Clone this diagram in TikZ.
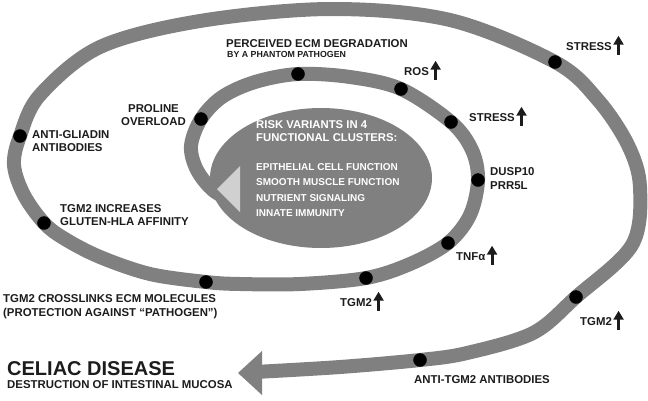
\documentclass[tikz,border=0pt]{standalone}
\usepackage{fontspec}
\setmainfont{Liberation Sans}
\usetikzlibrary{arrows.meta}
\definecolor{band}{RGB}{128,128,128}
\definecolor{tri}{RGB}{208,208,208}
\definecolor{ink}{RGB}{28,28,28}
\tikzset{
  lbl/.style={font=\fontsize{11.4}{13.5}\selectfont\bfseries,text=ink,inner sep=0pt,align=left},
  inlbl/.style={lbl,text=white},
  uparr/.style={draw=ink,line width=3pt,-{Triangle[length=9pt,width=10pt]}},
}
\begin{document}
\begin{tikzpicture}[x=1pt,y=-1pt,line join=round]
			\useasboundingbox (0,0) rectangle (648,400);
			\draw [band,line width=14pt] plot [smooth,tension=0.55] coordinates {
				(238,203) (214,191) (197,170) (191,146) (201,119) (222,97) (255,82) (298,74)
				(350,77) (401,89) (451,122) (472,150) (478,180) (470,215) (448,243) (410,264)
				(366,278) (300,284) (240,284) (206,282) (150,274) (100,257) (65,239) (44,223)
				(24,195) (14,165) (20,136) (40,95) (100,47) (200,21) (330,9) (450,20) (555,62)
				(598,100) (628,145) (640,187) (632,245) (576,297) (533,333) (467,353) (420,360)
				(340,367) (255,372)};
			\fill [band] (262,351)--(238,373)--(262,395)--cycle;
			\fill [band] (321,178) ellipse [x radius=111,y radius=70];
			\fill [tri] (217,189)--(240,166)--(240,212)--cycle;
			\draw [fill=black] (298,74) circle (6.5pt)
			(401,89) circle (6.5pt)
			(451,122) circle (6.5pt)
			(478,180) circle (6.5pt)
			(448,243) circle (6.5pt)
			(366,278) circle (6.5pt)
			(206,282) circle (6.5pt)
			(44,223) circle (6.5pt)
			(20,136) circle (6.5pt)
			(201,119) circle (6.5pt)
			(555,62) circle (6.5pt)
			(576,297) circle (6.5pt)
			(420,360) circle (6.5pt)
			;
			\node (risk) [inlbl,font=\fontsize{11.3}{13}\selectfont\bfseries,anchor=west] at (256,131.5) {RISK VARIANTS IN 4\\FUNCTIONAL CLUSTERS:};
			\node (clusters) [inlbl,font=\fontsize{10}{15.3}\selectfont\bfseries,anchor=west] at (256,190) {EPITHELIAL CELL FUNCTION\\SMOOTH MUSCLE FUNCTION\\NUTRIENT SIGNALING\\INNATE IMMUNITY};
			\node (perceived) [lbl,anchor=west] at (226,44) {PERCEIVED ECM DEGRADATION};
			\node (phantom) [lbl,font=\fontsize{8.8}{10}\selectfont\bfseries,anchor=west] at (227,54.5) {BY A PHANTOM PATHOGEN};
			\node (proline) [lbl,align=center,anchor=east] at (186,115) {PROLINE\\OVERLOAD};
			\node (gliadin) [lbl,anchor=west] at (32,141) {ANTI-GLIADIN\\ANTIBODIES};
			\node (affinity) [lbl,anchor=west] at (60,215) {TGM2 INCREASES\\GLUTEN-HLA AFFINITY};
			\node (crosslink) [lbl,anchor=west] at (3,306.5) {TGM2 CROSSLINKS ECM MOLECULES\\(PROTECTION AGAINST “PATHOGEN”)};
			\node (celiac) [lbl,font=\fontsize{20}{22}\selectfont\bfseries,anchor=west] at (7,369) {CELIAC DISEASE};
			\node (mucosa) [lbl,anchor=west] at (7,384.5) {DESTRUCTION OF INTESTINAL MUCOSA};
			\node (antitgm) [lbl] at (482,380) {ANTI-TGM2 ANTIBODIES};
			\node (tgmout) [lbl,anchor=west] at (580,322) {TGM2};
			\node (tgmin) [lbl,anchor=west] at (340,303) {TGM2};
			\node (tnf) [lbl,anchor=west] at (456,257) {TNFα};
			\node (dusp) [lbl,anchor=west] at (490,178.5) {DUSP10\\PRR5L};
			\node (stressin) [lbl,anchor=west] at (469,118) {STRESS};
			\node (ros) [lbl,anchor=west] at (404,72) {ROS};
			\node (stressout) [lbl,anchor=west] at (566,47) {STRESS};
			\foreach \n in {tgmout,tgmin,tnf,stressin,ros,stressout}
				\draw [uparr] ([xshift=6.5pt,yshift=-3.5pt]\n.south east) -- ++(0,-19);
		\end{tikzpicture}
\end{document}
